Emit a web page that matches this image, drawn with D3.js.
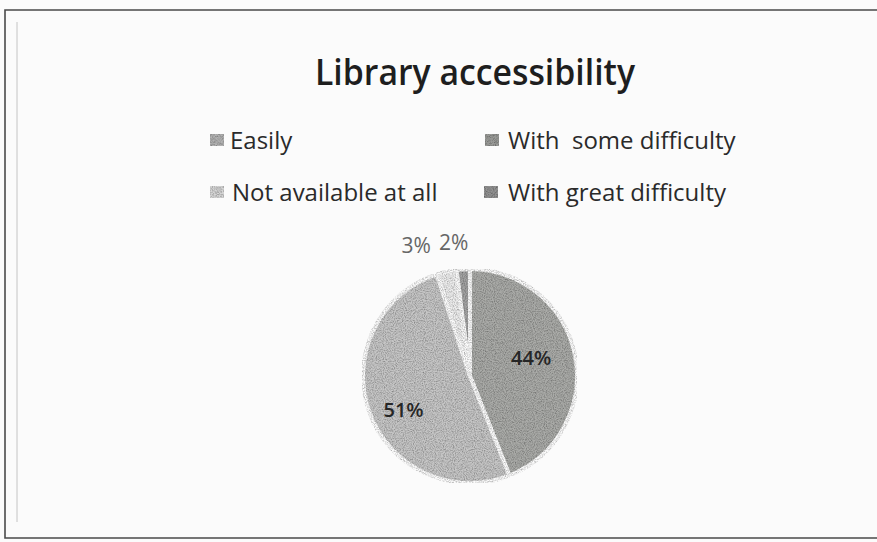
<!DOCTYPE html>
<html>
<head>
<meta charset="utf-8">
<script src="https://cdn.jsdelivr.net/npm/d3@7"></script>
<style>
  html, body { margin: 0; padding: 0; background: #fbfbfb; }
  svg { display: block; }
</style>
</head>
<body>
<svg id="chart" width="877" height="542"></svg>
<script>
// Data (pie drawn clockwise from 12 o'clock in this order)
const sliceCategories = ["With  some difficulty", "Easily", "Not available at all", "With great difficulty"];
const sliceValues = [44, 51, 3, 2];
const sliceColors = ["#aaaba8", "#c6c6c6", "#ededed", "#a3a3a3"];
const sliceLabels = ["44%", "51%", "3%", "2%"];
// Legend order
const legendCategories = ["Easily", "With  some difficulty", "Not available at all", "With great difficulty"];
const titleText = "Library accessibility";

const FONT = "'Open Sans', 'Noto Sans', sans-serif";
const svg = d3.select("#chart");
const W = 877, H = 542;

// grain filter
const defs = svg.append("defs");
const f = defs.append("filter").attr("id", "grain").attr("x", 0).attr("y", 0).attr("width", 1).attr("height", 1);
f.append("feTurbulence").attr("type", "fractalNoise").attr("baseFrequency", 0.9).attr("numOctaves", 2).attr("seed", 3).attr("result", "noise");
f.append("feColorMatrix").attr("in", "noise").attr("type", "matrix")
  .attr("values", "0 0 0 0 0  0 0 0 0 0  0 0 0 0 0  0 0 0 -1.1 0.72").attr("result", "speck");
f.append("feComposite").attr("in", "speck").attr("in2", "SourceGraphic").attr("operator", "in").attr("result", "speckIn");
f.append("feBlend").attr("in", "speckIn").attr("in2", "SourceGraphic").attr("mode", "multiply");

// frame
svg.append("path")
  .attr("d", `M${W} 10 L5 10 L5 538 L${W} 538`)
  .attr("fill", "none").attr("stroke", "#4a4a4a").attr("stroke-width", 1.6);
svg.append("line").attr("x1", 17).attr("x2", 17).attr("y1", 22).attr("y2", 522)
  .attr("stroke", "#c4c4c4").attr("stroke-width", 1);

// title
svg.append("text")
  .attr("x", 475).attr("y", 85)
  .attr("text-anchor", "middle")
  .attr("font-family", FONT)
  .attr("font-weight", 600)
  .attr("font-size", 36)
  .attr("textLength", 320)
  .attr("lengthAdjust", "spacingAndGlyphs")
  .attr("fill", "#1e1e1e")
  .text(titleText);

// legend
const colorOf = d3.scaleOrdinal().domain(sliceCategories).range(sliceColors);
const legendPos = [
  { sx: 210, tx: 230, y: 140 },
  { sx: 485, tx: 508, y: 140 },
  { sx: 210, tx: 232, y: 192 },
  { sx: 484, tx: 508, y: 192 }
];
const lg = svg.append("g").attr("font-family", FONT).attr("font-size", 24);
legendCategories.forEach((c, i) => {
  const p = legendPos[i];
  lg.append("rect").attr("x", p.sx).attr("y", p.y - 6).attr("width", 14).attr("height", 12)
    .attr("fill", d3.color(colorOf(c)).darker(0.3)).attr("filter", "url(#grain)");
  lg.append("text").attr("x", p.tx).attr("y", p.y + 9)
    .attr("fill", "#2a2a2a").style("white-space", "pre").text(c);
});

// pie
const cx = 470, cy = 376, R = 107;
const pie = d3.pie().sort(null).value(d => d.v);
const data = sliceValues.map((v, i) => ({ v, c: sliceCategories[i], l: sliceLabels[i] }));
const arcs = pie(data);
const arc = d3.arc().innerRadius(0).outerRadius(R);
const g = svg.append("g").attr("transform", `translate(${cx},${cy})`);
g.selectAll("path.slice").data(arcs).enter().append("path")
  .attr("class", "slice")
  .attr("d", arc)
  .attr("fill", d => colorOf(d.data.c))
  .attr("stroke", "#fbfbfb").attr("stroke-width", 4)
  .attr("filter", "url(#grain)");

// labels
const inArc = d3.arc().innerRadius(R * 0.62).outerRadius(R * 0.62);
const outArc = d3.arc().innerRadius(R + 25).outerRadius(R + 25);
const outShift = [0, 0, -25, -8];
g.selectAll("text.lbl").data(arcs).enter().append("text")
  .attr("class", "lbl")
  .attr("font-family", FONT)
  .attr("font-size", d => d.data.v > 10 ? 20 : 21)
  .attr("font-weight", d => d.data.v > 10 ? 600 : 400)
  .attr("text-anchor", "middle")
  .attr("dominant-baseline", "central")
  .attr("fill", d => d.data.v > 10 ? "#262626" : "#666")
  .attr("transform", (d, i) => {
    if (d.data.v > 10) {
      const [x, y] = inArc.centroid(d);
      return `translate(${x - 4},${y + (i === 1 ? 11 : -6)})`;
    }
    const [x, y] = outArc.centroid(d);
    return `translate(${x + outShift[i]},${y - 2})`;
  })
  .text(d => d.data.l);
</script>
</body>
</html>
